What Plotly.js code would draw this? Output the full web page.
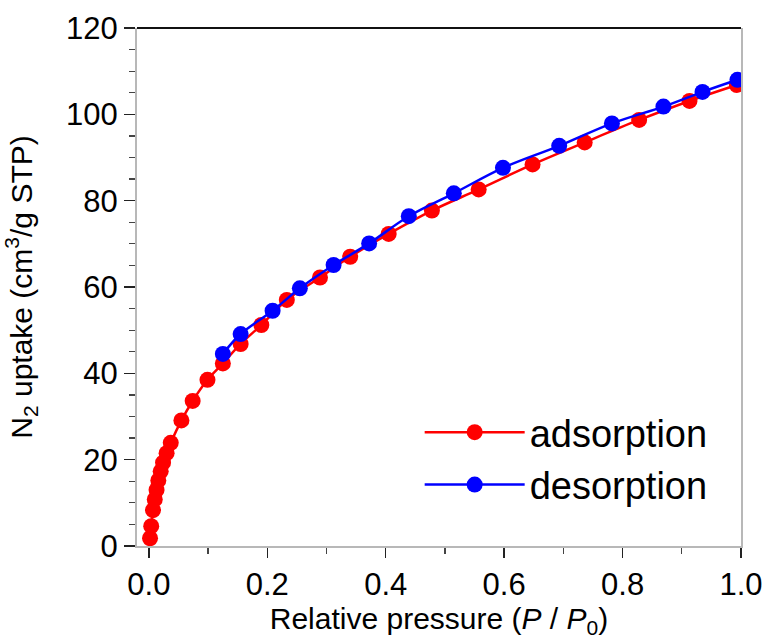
<!DOCTYPE html>
<html>
<head>
<meta charset="utf-8">
<script src="https://cdn.plot.ly/plotly-3.0.1.min.js"></script>
<style>html,body{margin:0;padding:0;background:#fff;}#chart{width:769px;height:639px;}</style>
</head>
<body>
<div id="chart"></div>
<script>
// Adsorption branch (relative pressure, uptake)
var adsX = [0.002, 0.004, 0.007, 0.010, 0.013, 0.016, 0.020, 0.024, 0.030, 0.037, 0.055, 0.074, 0.099, 0.125, 0.155, 0.190, 0.233, 0.289, 0.340, 0.405, 0.478, 0.557, 0.648, 0.736, 0.828, 0.913, 0.993];
var adsY = [1.8, 4.6, 8.3, 10.8, 13.0, 15.2, 17.3, 19.3, 21.5, 23.9, 29.1, 33.6, 38.5, 42.3, 46.8, 51.2, 57.0, 62.2, 67.0, 72.3, 77.7, 82.6, 88.4, 93.5, 98.7, 103.1, 106.8];
// Desorption branch
var desX = [0.994, 0.935, 0.869, 0.782, 0.693, 0.598, 0.515, 0.439, 0.372, 0.312, 0.255, 0.209, 0.155, 0.125];
var desY = [108.0, 105.2, 101.8, 97.9, 92.7, 87.6, 81.7, 76.4, 70.1, 65.1, 59.7, 54.5, 49.1, 44.5];

var xTickVals = [0, 0.2, 0.4, 0.6, 0.8, 1.0];
var xTickText = ["0.0", "0.2", "0.4", "0.6", "0.8", "1.0"];
var yTickVals = [0, 20, 40, 60, 80, 100, 120];

var FONT = "Liberation Sans, Arial, Helvetica, sans-serif";

var traces = [
  {x: adsX, y: adsY, name: "adsorption", type: "scatter", mode: "lines+markers",
   line: {color: "#ff0000", width: 2.5, shape: "spline"},
   marker: {color: "#ff0000", size: 16}},
  {x: desX, y: desY, name: "desorption", type: "scatter", mode: "lines+markers",
   line: {color: "#0000ff", width: 2.5, shape: "spline"},
   marker: {color: "#0000ff", size: 16}}
];

var layout = {
  width: 769, height: 639,
  margin: {l: 137, r: 28, t: 28, b: 93},
  paper_bgcolor: "#fff", plot_bgcolor: "#fff",
  font: {family: FONT, color: "#000"},
  showlegend: true,
  legend: {x: 0.468, y: 0.28, xanchor: "left", yanchor: "top",
           font: {family: FONT, size: 38, color: "#000"},
           bgcolor: "rgba(0,0,0,0)", itemwidth: 100, tracegroupgap: 0},
  xaxis: {
    range: [-0.02, 1.0], showgrid: false, zeroline: false,
    tickmode: "array", tickvals: xTickVals, ticktext: xTickText,
    ticks: "outside", ticklen: 10, tickwidth: 1.5, tickcolor: "#222",
    minor: {dtick: 0.1, tick0: 0, ticks: "outside", ticklen: 6, tickwidth: 1.2, tickcolor: "#444"},
    showline: true, linecolor: "#b8b8b8", linewidth: 2, mirror: false,
    tickfont: {family: FONT, size: 31, color: "#000"},
    title: {text: "Relative pressure (<i>P</i> / <i>P</i><sub>0</sub>)", font: {family: FONT, size: 30, color: "#000"}, standoff: 4}
  },
  yaxis: {
    range: [0, 120], showgrid: false, zeroline: false,
    tickmode: "array", tickvals: yTickVals,
    ticks: "outside", ticklen: 11, tickwidth: 1.5, tickcolor: "#222",
    minor: {dtick: 5, tick0: 0, ticks: "outside", ticklen: 6, tickwidth: 1.2, tickcolor: "#444"},
    showline: true, linecolor: "#b8b8b8", linewidth: 2, mirror: true,
    tickfont: {family: FONT, size: 31, color: "#000"},
    title: {text: "N<sub>2</sub> uptake (cm<sup>3</sup>/g STP)", font: {family: FONT, size: 30, color: "#000"}, standoff: 30}
  },
  shapes: [
    {type: "line", xref: "paper", yref: "paper", x0: 0, x1: 1, y0: 1, y1: 1,
     line: {color: "#111", width: 2}}
  ]
};

Plotly.newPlot("chart", traces, layout, {displayModeBar: false, staticPlot: true});
</script>
</body>
</html>
